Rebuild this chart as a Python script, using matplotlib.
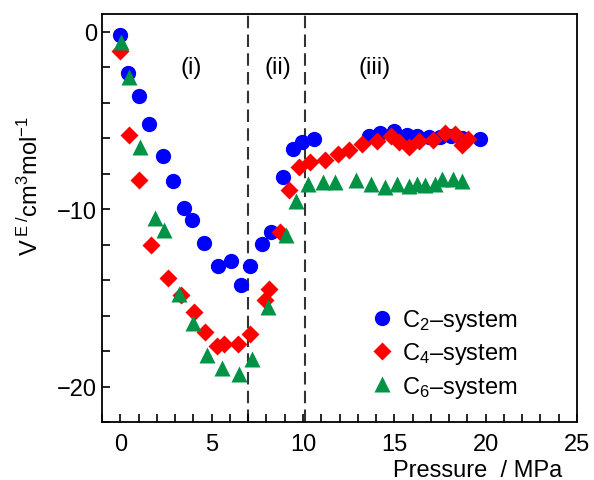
import numpy as np
import matplotlib
matplotlib.use('Agg')
import matplotlib.pyplot as plt
from matplotlib.ticker import MultipleLocator

plt.rcParams['font.family'] = ['Liberation Sans', 'DejaVu Sans']
plt.rcParams['mathtext.fontset'] = 'custom'
plt.rcParams['mathtext.rm'] = 'Liberation Sans'
plt.rcParams['mathtext.it'] = 'Liberation Sans:italic'

# C2-system
p_c2 = [0.0, 0.4, 1.0, 1.6, 2.35, 2.9, 3.5, 3.9, 4.6, 5.35, 6.05, 6.6, 7.1, 7.75, 8.25, 8.9,
        9.45, 9.95, 10.6, 13.6, 14.2, 15.0, 15.7, 16.25, 16.9, 17.5, 18.1, 18.7, 19.7]
v_c2 = [-0.2, -2.3, -3.6, -5.2, -7.0, -8.4, -9.95, -10.6, -11.9, -13.2, -12.9, -14.25, -13.2, -11.95,
        -11.3, -8.2, -6.6, -6.2, -6.05, -5.85, -5.7, -5.62, -5.82, -5.86, -5.93, -5.92, -5.9, -5.98, -6.05]

# C4-system
p_c4 = [0.0, 0.5, 1.0, 1.7, 2.6, 3.35, 4.05, 4.65, 5.3, 5.7, 6.45, 7.1, 7.9, 8.15, 8.75, 9.25,
        9.8, 10.4, 11.2, 11.9, 12.5, 13.25, 14.05, 14.8, 15.25, 15.8, 16.35, 17.1, 17.8, 18.3, 18.7, 19.05]
v_c4 = [-1.1, -5.8, -8.35, -12.0, -13.9, -14.85, -15.8, -16.95, -17.7, -17.6, -17.6, -17.05, -15.1,
        -14.5, -11.3, -8.9, -7.6, -7.35, -7.25, -6.9, -6.65, -6.35, -6.15, -5.85, -6.22, -6.5, -6.15,
        -6.12, -5.68, -5.78, -6.37, -6.02]

# C6-system
p_c6 = [0.05, 0.5, 1.1, 1.9, 2.4, 3.2, 4.0, 4.75, 5.55, 6.5, 7.2, 8.1, 9.05, 9.6, 10.3, 11.1,
        11.75, 12.9, 13.75, 14.5, 15.15, 15.8, 16.25, 16.7, 17.2, 17.6, 18.2, 18.7]
v_c6 = [-0.6, -2.55, -6.5, -10.5, -11.15, -14.8, -16.4, -18.2, -18.95, -19.3, -18.45, -15.5, -11.45,
        -9.55, -8.6, -8.47, -8.47, -8.37, -8.56, -8.75, -8.56, -8.7, -8.56, -8.62, -8.56, -8.32, -8.32, -8.4]

boundaries = [7.0, 10.1]
regions = ['(i)', '(ii)', '(iii)']
region_x = [3.9, 8.6, 13.9]

fig = plt.figure(figsize=(5.94, 4.81), dpi=100)
ax = fig.add_axes([0.1717, 0.1206, 0.7997, 0.8482])

for b in boundaries:
    ax.axvline(b, color='#333333', lw=1.5, ls=(0, (6, 3)), zorder=1)

ax.plot(p_c2, v_c2, 'o', color='#0000ff', ms=11, mec='none', label='C$_2$–system', zorder=3)
ax.plot(p_c4, v_c4, 'D', color='#ff0000', ms=9.5, mec='none', label='C$_4$–system', zorder=4)
ax.plot(p_c6, v_c6, '^', color='#009245', ms=11, mec='none', label='C$_6$–system', zorder=5)

for t, x in zip(regions, region_x):
    ax.text(x, -2.0, t, fontsize=17, ha='center', va='center')

ax.set_xlim(-1, 25)
ax.set_ylim(-22, 1)
ax.xaxis.set_minor_locator(MultipleLocator(1))
ax.yaxis.set_minor_locator(MultipleLocator(2))
ax.tick_params(which='both', direction='in', length=6, width=1.2, labelsize=17,
               top=False, right=False)
ax.tick_params(axis='x', pad=8)
ax.set_xticks([0, 5, 10, 15, 20, 25])
ax.set_xticklabels(['0', '5', '10', '15', '20', '25'])
ax.set_yticks([0, -10, -20])
ax.set_yticklabels(['0', '−10', '−20'])
for s in ax.spines.values():
    s.set_linewidth(1.3)

ax.set_xlabel('Pressure  / MPa', fontsize=17)
ax.xaxis.set_label_coords(0.79, -0.09)
ax.set_ylabel(r'V$^{\;\mathrm{E}\;/}$cm$^3$mol$^{-1}$', fontsize=17)
ax.yaxis.set_label_coords(-0.125, 0.58)

ax.legend(loc='center left', bbox_to_anchor=(0.565, 0.168), frameon=False, fontsize=17,
          handletextpad=0.35, labelspacing=0.3, borderpad=0, borderaxespad=0, handlelength=1.0)

fig.savefig('out.png', dpi=100)
